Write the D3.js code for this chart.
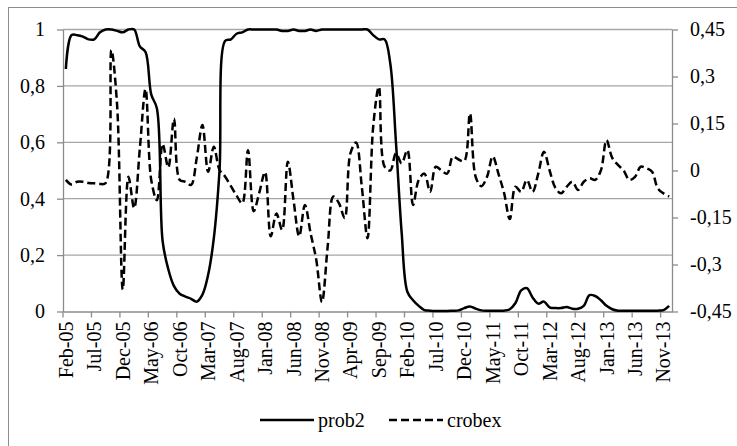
<!DOCTYPE html>
<html>
<head>
<meta charset="utf-8">
<script src="https://cdn.jsdelivr.net/npm/d3@7"></script>
<style>
  body { margin: 0; background: #fff; }
</style>
</head>
<body>
<script>
// monthly categories, Feb-05 .. Dec-13
const months = d3.timeMonth.range(new Date(2005, 1, 1), new Date(2014, 0, 1));
const fmtMonth = d3.timeFormat('%b-%y');
const categories = months.map(fmtMonth);

const xTickLabels = ['Feb-05', 'Jul-05', 'Dec-05', 'May-06', 'Oct-06', 'Mar-07', 'Aug-07', 'Jan-08',
  'Jun-08', 'Nov-08', 'Apr-09', 'Sep-09', 'Feb-10', 'Jul-10', 'Dec-10', 'May-11', 'Oct-11',
  'Mar-12', 'Aug-12', 'Jan-13', 'Jun-13', 'Nov-13'];
const leftTicks = [0, 0.2, 0.4, 0.6, 0.8, 1];
const rightTicks = [-0.45, -0.3, -0.15, 0, 0.15, 0.3, 0.45];

const prob2 = [
  0.86, 0.98, 0.98, 0.975, 0.965, 0.965, 0.99, 1.0, 1.0, 0.995,
  0.99, 1.0, 1.0, 0.94, 0.92, 0.77, 0.72, 0.25, 0.15, 0.09,
  0.063, 0.053, 0.045, 0.035, 0.06, 0.13, 0.26, 0.5, 0.96, 0.965,
  0.985, 0.99, 1.0, 1.0, 1.0, 1.0, 1.0, 1.0, 0.995, 0.995,
  1.0, 0.995, 0.995, 1.0, 0.995, 1.0, 1.0, 1.0, 1.0, 1.0,
  1.0, 1.0, 1.0, 1.0, 0.98, 0.965, 0.965, 0.88, 0.6, 0.28,
  0.07, 0.04, 0.02, 0.005, 0.003, 0.002, 0.002, 0.002, 0.003, 0.004,
  0.012, 0.018, 0.01, 0.004, 0.003, 0.003, 0.003, 0.003, 0.008, 0.03,
  0.075, 0.083, 0.05, 0.028, 0.035, 0.015, 0.012, 0.012, 0.016, 0.01,
  0.01, 0.02, 0.058, 0.055, 0.04, 0.02, 0.008, 0.003, 0.003, 0.003,
  0.003, 0.003, 0.003, 0.003, 0.003, 0.005, 0.02
];

const crobex = [
  -0.03, -0.045, -0.036, -0.036, -0.04, -0.041, -0.043, -0.04, 0.384, 0.21,
  -0.38, -0.02, -0.12, 0.07, 0.26, -0.03, -0.095, 0.085, 0.01, 0.165,
  -0.03, -0.036, -0.046, 0.04, 0.145, -0.004, 0.076, 0.002, -0.02, -0.05,
  -0.08, -0.105, 0.065, -0.13, -0.07, -0.005, -0.21, -0.137, -0.19, 0.028,
  -0.094, -0.21, -0.11, -0.2, -0.285, -0.42, -0.243, -0.083, -0.105, -0.152,
  0.055, 0.089, -0.052, -0.216, 0.14, 0.267, 0.012, 0.0, 0.055, 0.023,
  0.065, -0.11, -0.03, -0.01, -0.068, 0.012, 0.0, -0.01, 0.044, 0.035,
  0.03, 0.182, -0.02, -0.05, -0.02, 0.045, -0.01, -0.072, -0.155, -0.052,
  -0.068, -0.03, -0.068, -0.01, 0.06, 0.0, -0.055, -0.073, -0.052, -0.036,
  -0.062, -0.036, -0.025, -0.03, 0.0, 0.097, 0.04, 0.018, 0.0, -0.03,
  -0.02, 0.012, 0.007, -0.004, -0.057, -0.073, -0.083
];

const W = 737;
const H = 446;
const plot = { left: 63, right: 672, top: 29.5, bottom: 311.5 };
const gridColor = '#a6a6a6';
const axisColor = '#8c8c8c';
const commaFmt = d => String(d).replace('.', ',');

const svg = d3.select('body')
  .append('svg')
    .attr('width', W)
    .attr('height', H);

// outer chart border (runs off the right/bottom edge like the original)
svg.append('rect')
  .attr('x', 8.5).attr('y', 7.5)
  .attr('width', W).attr('height', H)
  .attr('fill', 'none')
  .attr('stroke', axisColor);

const x = d3.scaleBand()
  .domain(categories)
  .range([plot.left, plot.right])
  .padding(0);
const bw = x.bandwidth();
const cx = d => x(d) + bw / 2;

const y = d3.scaleLinear().domain([0, 1]).range([plot.bottom, plot.top]);
const y2 = d3.scaleLinear().domain([-0.45, 0.45]).range([plot.bottom, plot.top]);

// gridlines
svg.append('g')
  .selectAll('line')
  .data(leftTicks.filter(d => d > 0))
  .join('line')
    .attr('x1', plot.left).attr('x2', plot.right)
    .attr('y1', d => y(d)).attr('y2', d => y(d))
    .attr('stroke', gridColor)
    .attr('stroke-width', 1.3);

const yAxis = d3.axisLeft(y)
  .tickValues(leftTicks)
  .tickFormat(commaFmt)
  .tickSizeInner(6)
  .tickSizeOuter(0)
  .tickPadding(12);

svg.append('g')
  .attr('class', 'axis-y')
  .attr('transform', `translate(${plot.left}, 0)`)
  .call(yAxis);

const y2Axis = d3.axisRight(y2)
  .tickValues(rightTicks)
  .tickFormat(commaFmt)
  .tickSizeInner(6)
  .tickSizeOuter(0)
  .tickPadding(12);

svg.append('g')
  .attr('class', 'axis-y2')
  .attr('transform', `translate(${plot.right}, 0)`)
  .call(y2Axis);

const xAxis = d3.axisBottom(x)
  .tickValues(xTickLabels)
  .tickSizeInner(6)
  .tickSizeOuter(0)
  .tickPadding(0);

const gx = svg.append('g')
  .attr('class', 'axis-x')
  .attr('transform', `translate(0, ${plot.bottom})`)
  .call(xAxis);

// ticks sit on category boundaries, labels on category centres
gx.selectAll('.tick line')
  .attr('x1', -bw / 2).attr('x2', -bw / 2);
gx.selectAll('.tick text')
  .attr('transform', 'rotate(-90)')
  .attr('x', -10)
  .attr('y', 0)
  .attr('dy', '0.35em')
  .attr('text-anchor', 'end');

svg.selectAll('.domain, .tick line')
  .attr('stroke', axisColor)
  .attr('stroke-width', 1.3);

// series
const line1 = d3.line()
  .x((d, i) => cx(categories[i]))
  .y(d => y(d))
  .curve(d3.curveCatmullRom);

const line2 = d3.line()
  .x((d, i) => cx(categories[i]))
  .y(d => y2(d))
  .curve(d3.curveCatmullRom);

svg.append('path')
  .datum(crobex)
  .attr('d', line2)
  .attr('fill', 'none')
  .attr('stroke', '#000')
  .attr('stroke-width', 2.5)
  .attr('stroke-dasharray', '8,4');

svg.append('path')
  .datum(prob2)
  .attr('d', line1)
  .attr('fill', 'none')
  .attr('stroke', '#000')
  .attr('stroke-width', 2.5);

// legend
const legend = [
  { name: 'prob2', x: 260, dash: null },
  { name: 'crobex', x: 389, dash: '8,4' }
];

const lg = svg.append('g')
  .selectAll('g')
  .data(legend)
  .join('g')
    .attr('transform', d => `translate(${d.x}, 420)`);

lg.append('line')
  .attr('x1', 0).attr('x2', 54)
  .attr('stroke', '#000')
  .attr('stroke-width', 2.5)
  .attr('stroke-dasharray', d => d.dash);

lg.append('text')
  .attr('x', 58)
  .attr('dy', '0.35em')
  .text(d => d.name);

// one font for every label
svg.selectAll('g').attr('font-family', null).attr('font-size', null);
svg.selectAll('text')
  .style('font-family', "'Liberation Serif'")
  .style('font-size', '20px')
  .attr('fill', '#000');
</script>
</body>
</html>
